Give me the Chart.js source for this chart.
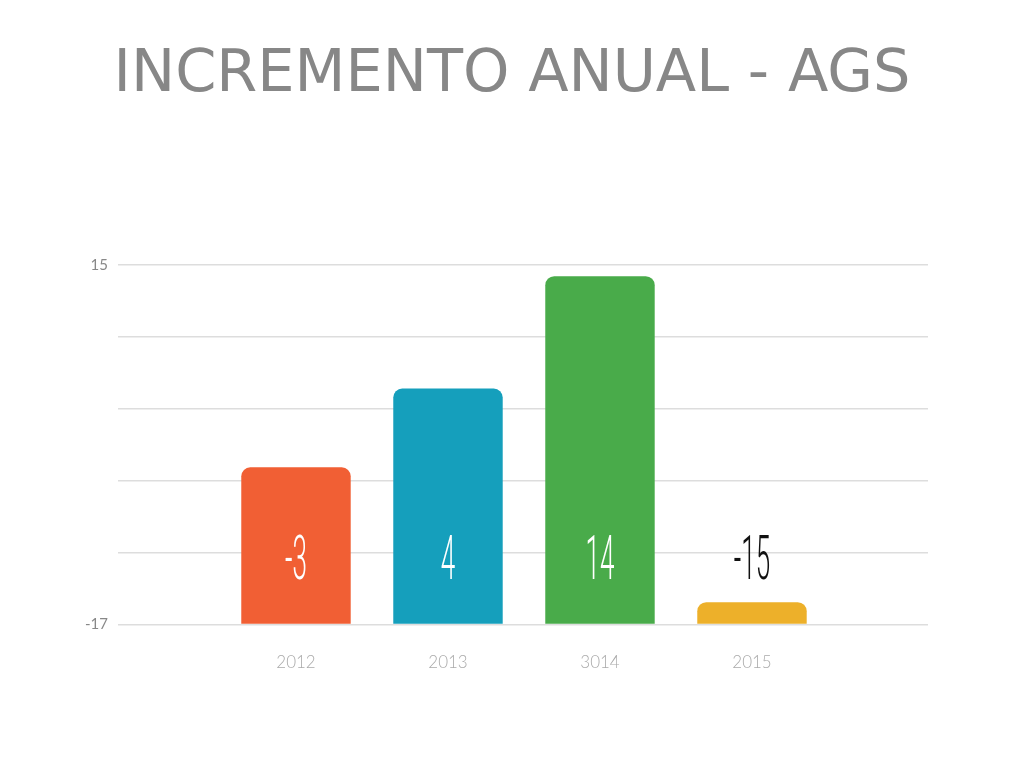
<!DOCTYPE html>
<html>
<head>
<meta charset="utf-8">
<script src="https://cdn.jsdelivr.net/npm/chart.js@4/dist/chart.umd.min.js"></script>
<style>
  html, body { margin: 0; padding: 0; background: #fff; }
  #wrap { width: 1024px; height: 768px; }
</style>
</head>
<body>
<div id="wrap"><canvas id="incremento"></canvas></div>
<script>
const title = 'INCREMENTO ANUAL - AGS';
const categories = ['2012', '2013', '3014', '2015'];
const values = [-3, 4, 14, -15];
const barColors = ['#f15f34', '#159fbc', '#49ab4a', '#edb02a'];
const yMin = -17;
const yMax = 15;
const yTicks = [-17, -10.6, -4.2, 2.2, 8.6, 15];

// title centred on the whole canvas (not on the chart area)
const pageTitle = {
  id: 'pageTitle',
  afterDraw(chart) {
    const ctx = chart.ctx;
    ctx.save();
    ctx.font = '59px "DejaVu Sans"';
    ctx.fillStyle = '#878787';
    ctx.textAlign = 'center';
    ctx.textBaseline = 'alphabetic';
    ctx.fillText(title, chart.width / 2, 91);
    ctx.restore();
  }
};

// labels drawn in a narrow font near the bottom of each bar
const barLabels = {
  id: 'barLabels',
  afterDatasetsDraw(chart) {
    const ctx = chart.ctx;
    const meta = chart.getDatasetMeta(0);
    const yText = chart.chartArea.bottom - 61;
    meta.data.forEach((bar, i) => {
      ctx.save();
      ctx.translate(bar.x, yText);
      ctx.scale(0.42, 1);
      ctx.font = '300 62px Roboto';
      ctx.textAlign = 'center';
      ctx.textBaseline = 'middle';
      ctx.fillStyle = bar.y < yText - 30 ? '#ffffff' : '#111111';
      ctx.fillText(String(values[i]), 0, 0);
      ctx.restore();
    });
  }
};

const ctx = document.getElementById('incremento').getContext('2d');
new Chart(ctx, {
  type: 'bar',
  data: {
    datasets: [{
      data: values.map((v, i) => ({ x: i, y: v })),
      backgroundColor: barColors,
      base: yMin,
      borderRadius: 9,
      borderSkipped: 'start'
    }]
  },
  options: {
    responsive: true,
    maintainAspectRatio: false,
    animation: false,
    layout: { padding: { left: 84, right: 96, top: 265, bottom: 75 } },
    plugins: {
      legend: { display: false },
      tooltip: { enabled: false },
      title: { display: false }
    },
    scales: {
      x: {
        type: 'linear',
        offset: false,
        min: -1.171,
        max: 4.158,
        afterBuildTicks: axis => { axis.ticks = categories.map((c, i) => ({ value: i })); },
        ticks: {
          callback: v => categories[v],
          color: '#aaaaaa',
          padding: 20,
          font: { family: 'Lato', size: 17, weight: 300 }
        },
        grid: { display: false },
        border: { display: false }
      },
      y: {
        min: yMin,
        max: yMax,
        afterBuildTicks: axis => { axis.ticks = yTicks.map(v => ({ value: v })); },
        afterFit: axis => { axis.width = 34; },
        ticks: {
          callback: v => (v === yMin || v === yMax) ? v : '',
          color: '#888888',
          padding: 10,
          font: { family: 'Lato', size: 15 }
        },
        grid: { color: '#dddddd', lineWidth: 1.5, drawTicks: false },
        border: { display: false }
      }
    }
  },
  plugins: [barLabels, pageTitle]
});
</script>
</body>
</html>
